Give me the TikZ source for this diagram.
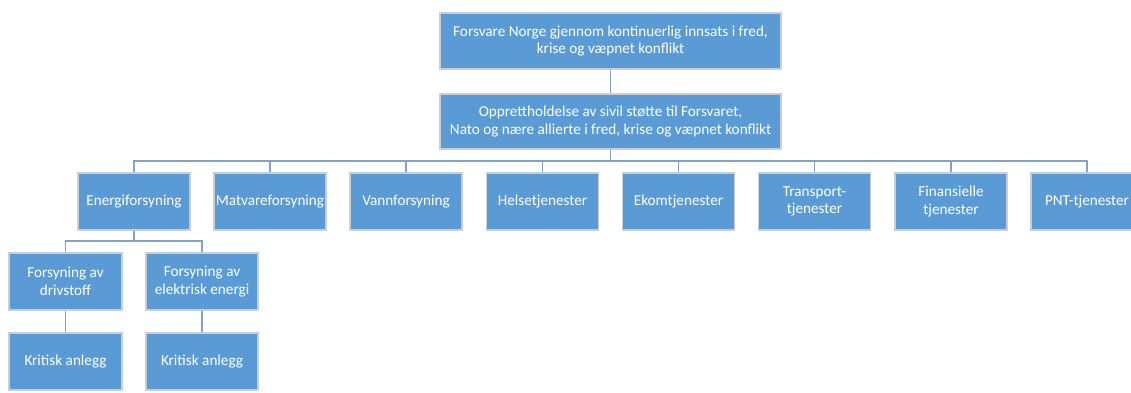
\documentclass[tikz,border=0pt]{standalone}
\usepackage{fontspec}
\setmainfont{Carlito}
\definecolor{boxblue}{HTML}{5B9BD5}
\definecolor{boxedge}{HTML}{C9CED4}
\definecolor{linkc}{HTML}{7FA2C6}
\begin{document}
\begin{tikzpicture}[x=1pt,y=-1pt,
  orgbox/.style={draw=boxedge,line width=1.2pt,fill=boxblue,text=white,align=center,
    inner sep=1pt,font=\fontsize{15.2}{17.5}\selectfont},
  link/.style={draw=linkc,line width=1.4pt}]
\useasboundingbox (0,0) rectangle (1131,392);
\clip (0,0) rectangle (1131,392);
\node[orgbox,minimum width=341pt,minimum height=56pt] (top) at (610.5,41) {Forsvare Norge gjennom kontinuerlig innsats i fred,\\krise og væpnet konflikt};
\node[orgbox,minimum width=341pt,minimum height=55pt] (mid) at (610.5,121.5) {Opprettholdelse av sivil støtte til Forsvaret,\\Nato og nære allierte i fred, krise og væpnet konflikt};
\foreach \n/\x/\t in {e/134/Energiforsyning, m/270/Matvareforsyning, v/406/Vannforsyning, h/542.5/Helsetjenester, k/678.5/Ekomtjenester, t/814.5/{Transport-\\tjenester}, f/951/{Finansielle\\tjenester}, p/1087/PNT-tjenester}
  \node[orgbox,minimum width=112pt,minimum height=57pt] (\n) at (\x,201.5) {\t};
\node[orgbox,minimum width=113pt,minimum height=57pt] (d) at (65.5,281.5) {Forsyning av\\drivstoff};
\node[orgbox,minimum width=112pt,minimum height=57pt] (el) at (202,281.5) {Forsyning av\\elektrisk energi};
\node[orgbox,minimum width=113pt,minimum height=57pt] (d2) at (65.5,361.5) {Kritisk anlegg};
\node[orgbox,minimum width=112pt,minimum height=57pt] (el2) at (202,361.5) {Kritisk anlegg};
\coordinate (bus) at (0,161);
\coordinate (bus2) at (0,241);
\draw[link] (top.south) -- (mid.north);
\foreach \c in {e,m,v,h,k,t,f,p}
  \draw[link] (mid.south) -- (mid.south |- bus) -| (\c.north);
\foreach \c in {d,el}
  \draw[link] (e.south) -- (e.south |- bus2) -| (\c.north);
\draw[link] (d.south) -- (d2.north);
\draw[link] (el.south) -- (el2.north);
\end{tikzpicture}
\end{document}
